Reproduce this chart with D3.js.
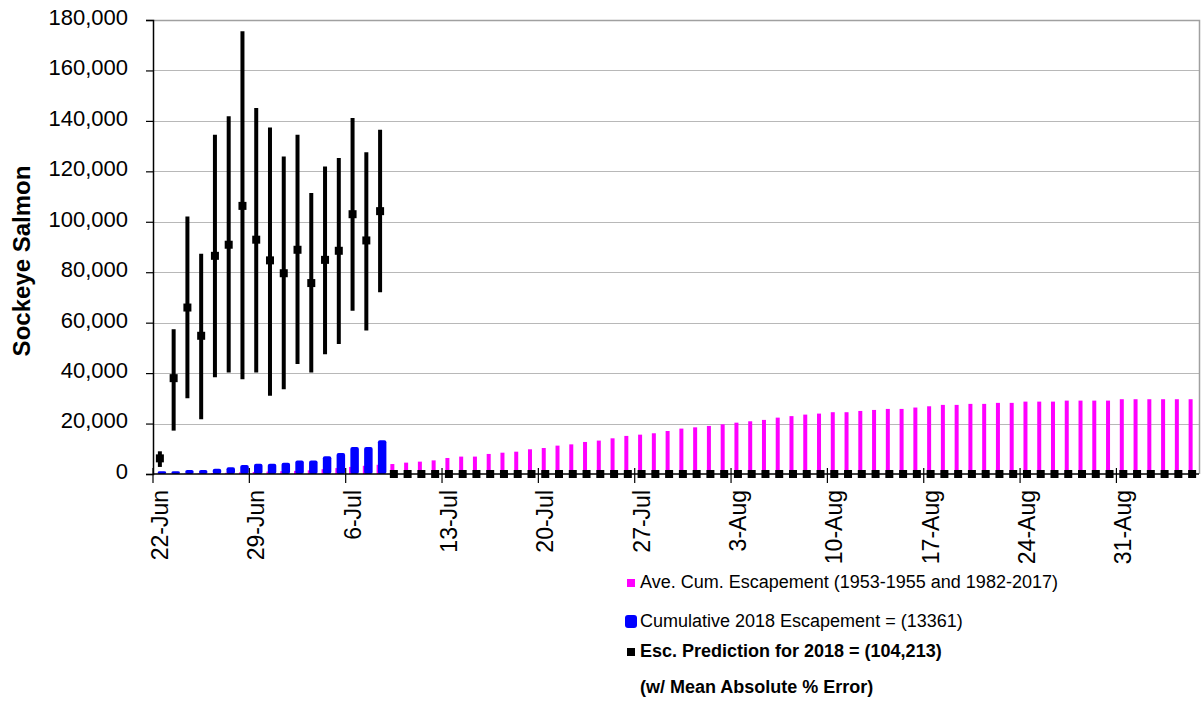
<!DOCTYPE html>
<html>
<head>
<meta charset="utf-8">
<script src="https://cdn.jsdelivr.net/npm/d3@7"></script>
<style>
  body { margin: 0; background: #fff; }
  svg { display: block; }
  text { font-family: "Liberation Sans", Arial, Helvetica, sans-serif; fill: #000; }
</style>
</head>
<body>
<svg id="chart" width="1202" height="709"></svg>
<script>
// Daily categories: 22 June through 5 September 2018
const days = d3.timeDay.range(new Date(2018, 5, 22), new Date(2018, 8, 6));

// Labels shown under every seventh day
const tickLabels = ["22-Jun", "29-Jun", "6-Jul", "13-Jul", "20-Jul", "27-Jul",
                    "3-Aug", "10-Aug", "17-Aug", "24-Aug", "31-Aug"];

// Average cumulative escapement (1953-1955 and 1982-2017), one value per day
const aveCum = [
  100, 150, 200, 300, 400, 500, 650, 800, 950, 1100, 1250, 1450, 1900, 2350, 2800, 3250, 3650,
  3950, 4500, 4900, 5400, 6350, 6900, 6900, 7950, 8450, 8850, 9800, 10300, 11250, 11750,
  12700, 13250, 14150, 15100, 15600, 16150, 17050, 18000, 18500, 19050, 19700, 20350, 20900,
  21450, 22350,
  22950, 23550, 23950, 24500, 24500, 25000, 25400, 25800, 25800, 26350, 26850, 27400, 27400,
  27800, 27800, 28200, 28200, 28700, 28700, 28700, 29100, 29100, 29100, 29100,
  29650, 29650, 29650, 29650, 29650, 29650
];

// Cumulative 2018 escapement to date
const cum2018 = [1050, 1050, 1550, 1550, 2100, 2650, 3550, 4100, 4100, 4500, 5400, 5400,
                 7000, 8300, 10700, 10700, 13361];

// Escapement prediction; zero once daily predictions stop (9 Jul - 5 Sep)
const predMid = [
  6200, 38000, 66000, 54800, 86500, 90900, 106300, 92900, 84700, 79600, 88900, 75700,
  84900, 88500, 103000, 92600, 104213,
  0, 0, 0, 0, 0, 0, 0, 0, 0, 0, 0, 0, 0, 0, 0, 0, 0, 0, 0, 0, 0, 0, 0, 0, 0, 0, 0, 0, 0,
  0, 0, 0, 0, 0, 0, 0, 0, 0, 0, 0, 0, 0, 0, 0, 0, 0, 0, 0, 0, 0, 0, 0, 0, 0, 0, 0, 0, 0, 0
];
// Mean absolute % error range around each prediction
const predLow  = [2800, 17200, 30000, 21700, 38400, 40200, 37600, 40200, 31000, 33600, 43600,
                  40200, 47500, 51500, 64700, 56900, 72100];
const predHigh = [9000, 57400, 102100, 87300, 134500, 141800, 175500, 145100, 137400, 125900,
                  134500, 111400, 121900, 125300, 141100, 127600, 136500];

const yTicks = d3.range(0, 180001, 20000);

const svg = d3.select("#chart");
const plotL = 153, plotR = 1199, plotT = 20, plotB = 474;

const x = d3.scaleBand().domain(days).range([plotL, plotR]).padding(0);
const y = d3.scaleLinear().domain([0, 180000]).range([plotB, plotT]);
const bw = x.bandwidth();
const cx = d => x(d) + bw / 2;
const fmt = d3.format(",");

// Horizontal gridlines
svg.append("g").selectAll("line").data(yTicks.filter(v => v > 0 && v < 180000)).join("line")
  .attr("x1", plotL).attr("x2", plotR)
  .attr("y1", d => Math.round(y(d)) + 0.5).attr("y2", d => Math.round(y(d)) + 0.5)
  .attr("stroke", "#b8b8b8").attr("stroke-width", 1.2);

// Plot area frame (top and right)
svg.append("path")
  .attr("d", `M${plotL},${plotT + 0.5}H${plotR + 0.5}V${plotB}`)
  .attr("fill", "none").attr("stroke", "#a0a0a0").attr("stroke-width", 1.5);

// Average cumulative escapement bars
svg.append("g").selectAll("rect").data(days).join("rect")
  .attr("x", d => cx(d) - 3.5)
  .attr("width", 4)
  .attr("y", (d, i) => y(aveCum[i]))
  .attr("height", (d, i) => plotB - y(aveCum[i]))
  .attr("fill", "#ff00ff");

// Cumulative 2018 escapement bars
svg.append("g").selectAll("rect").data(cum2018).join("rect")
  .attr("x", (v, i) => cx(days[i]) - 2.2)
  .attr("width", 8.5)
  .attr("y", v => y(v))
  .attr("height", v => plotB - y(v))
  .attr("rx", 2)
  .attr("fill", "#0000ff");

// Value axis
const yAxis = d3.axisLeft(y).tickValues(yTicks).tickSize(7).tickPadding(18).tickFormat(fmt);
const gy = svg.append("g").attr("transform", `translate(${plotL},0)`).call(yAxis);
gy.select(".domain").attr("stroke", "#000").attr("stroke-width", 1.5);
gy.selectAll(".tick line").attr("stroke", "#000").attr("stroke-width", 1.2);
gy.selectAll(".tick text").attr("font-size", 22).attr("dy", "0.2em")
  .attr("font-family", "'Liberation Sans', Arial, sans-serif").attr("fill", "#000");

// Category axis: ticks between categories every 7 days
const tickDays = days.filter((d, i) => i % 7 === 0);
const gx = svg.append("g");
gx.append("line").attr("x1", plotL).attr("x2", plotR)
  .attr("y1", plotB).attr("y2", plotB).attr("stroke", "#000").attr("stroke-width", 1.5);
gx.selectAll("line.tk").data(tickDays).join("line").attr("class", "tk")
  .attr("x1", d => x(d)).attr("x2", d => x(d))
  .attr("y1", plotB - 6).attr("y2", plotB + 9)
  .attr("stroke", "#000").attr("stroke-width", 1.2);
gx.selectAll("text").data(tickDays).join("text")
  .attr("transform", d => `translate(${cx(d) + 8},${plotB + 16}) rotate(-90)`)
  .attr("text-anchor", "end")
  .attr("font-size", 23)
  .text((d, i) => tickLabels[i]);

// Prediction error bars and markers
const gp = svg.append("g");
gp.selectAll("line").data(predLow).join("line")
  .attr("x1", (v, i) => cx(days[i])).attr("x2", (v, i) => cx(days[i]))
  .attr("y1", v => y(v)).attr("y2", (v, i) => y(predHigh[i]))
  .attr("stroke", "#000").attr("stroke-width", 4);
gp.selectAll("rect").data(predMid).join("rect")
  .attr("x", (v, i) => cx(days[i]) - 4)
  .attr("y", v => y(v) - 4)
  .attr("width", 8).attr("height", 8)
  .attr("fill", "#000");

// Y axis title
svg.append("text")
  .attr("transform", `translate(30,261) rotate(-90)`)
  .attr("text-anchor", "middle")
  .attr("font-size", 24).attr("font-weight", "bold")
  .text("Sockeye Salmon");

// Legend
const lg = svg.append("g");
lg.append("rect").attr("x", 627).attr("y", 579).attr("width", 8).attr("height", 8).attr("fill", "#ff00ff");
lg.append("text").attr("x", 640).attr("y", 588).attr("font-size", 18)
  .text("Ave. Cum. Escapement (1953-1955 and 1982-2017)");
lg.append("rect").attr("x", 625).attr("y", 615).attr("width", 12).attr("height", 13).attr("rx", 3).attr("fill", "#0000ff");
lg.append("text").attr("x", 640).attr("y", 627).attr("font-size", 18)
  .text("Cumulative 2018 Escapement = (" + cum2018[cum2018.length - 1] + ")");
lg.append("rect").attr("x", 627).attr("y", 648).attr("width", 8).attr("height", 8).attr("fill", "#000");
lg.append("text").attr("x", 640).attr("y", 657).attr("font-size", 18).attr("font-weight", "bold")
  .text("Esc. Prediction for 2018 = (" + fmt(predMid[16]) + ")");
lg.append("text").attr("x", 640).attr("y", 693).attr("font-size", 18).attr("font-weight", "bold")
  .text("(w/ Mean Absolute % Error)");
</script>
</body>
</html>
